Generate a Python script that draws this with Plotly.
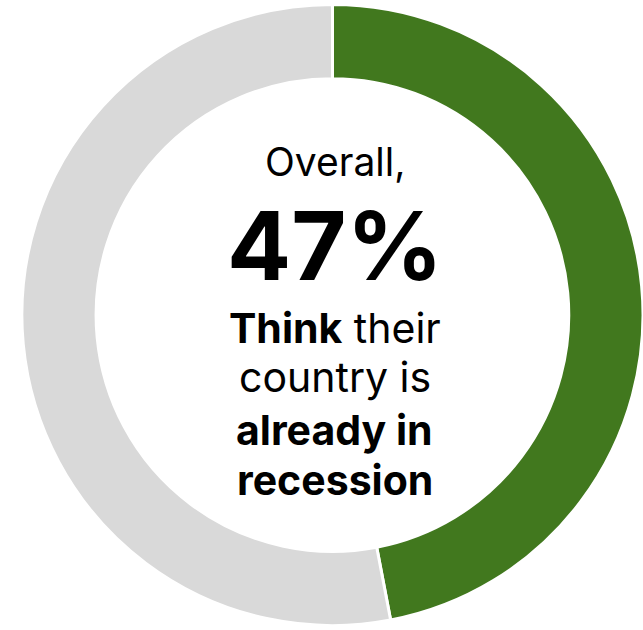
import plotly.graph_objects as go

labels = ["Already in recession", "Not in recession"]
values = [47, 53]
colors = ["#41781E", "#D9D9D9"]

W, H = 643, 630
FONT = "Inter"

fig = go.Figure(go.Pie(
    labels=labels,
    values=values,
    hole=0.761,
    sort=False,
    direction="clockwise",
    rotation=0,
    textinfo="none",
    hoverinfo="label+percent",
    marker=dict(colors=colors, line=dict(color="white", width=3)),
    domain=dict(x=[0.034, 1], y=[0, 1]),
    showlegend=False,
))

cx = 334.5 / W

def py(px):
    return 1 - px / H

lines = [
    ("Overall,", 162, 39, 400),
    (f"<b>{values[0]}%</b>", 246, 95, 900),
    ("<b>Think</b> their", 328, 41, 400),
    ("country is", 377, 41, 400),
    ("<b>already in</b>", 430, 41, 400),
    ("<b>recession</b>", 480, 41, 400),
]
for text, ypx, size, weight in lines:
    fig.add_annotation(
        x=cx, y=py(ypx), xref="paper", yref="paper",
        xanchor="center", yanchor="middle",
        text=text, showarrow=False,
        font=dict(family=FONT, size=size, color="black", weight=weight),
    )

fig.update_layout(
    width=W, height=H,
    margin=dict(l=0, r=0, t=0, b=0),
    paper_bgcolor="white",
    plot_bgcolor="white",
)

fig.write_html("out.html")
